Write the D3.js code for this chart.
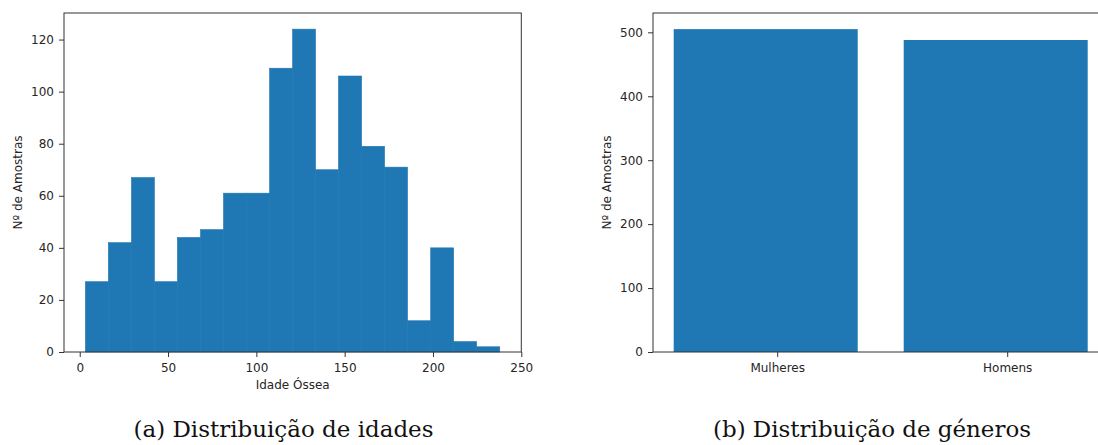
<!DOCTYPE html>
<html>
<head>
<meta charset="utf-8">
<script src="https://cdn.jsdelivr.net/npm/d3@7"></script>
<style>
  html, body { margin: 0; padding: 0; background: #ffffff; }
  svg { display: block; }
  .tick text { font-family: "DejaVu Sans", sans-serif; font-size: 12px; fill: #262626; }
  .tick line { stroke: #333333; }
  .domain { display: none; }
</style>
</head>
<body>
<svg id="chart" width="1098" height="445"></svg>
<script>
// ---------- DATA ----------
// (a) histogram of bone age: bin edges and counts
const ageBinEdges = [3.2, 16.2, 29.3, 42.3, 55.3, 68.4, 81.4, 94.4, 107.5, 120.5, 133.5, 146.5, 159.6, 172.6, 185.6, 198.7, 211.7, 224.7, 237.8];
const ageCounts   = [27, 42, 67, 27, 44, 47, 61, 61, 109, 124, 70, 106, 79, 71, 12, 40, 4, 2];
const ageXTicks   = [0, 50, 100, 150, 200, 250];
const ageYTicks   = [0, 20, 40, 60, 80, 100, 120];

// (b) gender distribution
const genderCategories = ["Mulheres", "Homens"];
const genderCounts     = [505, 488];
const genderYTicks     = [0, 100, 200, 300, 400, 500];

// Texts
const yLabel = "Nº de Amostras";
const xLabelAge = "Idade Óssea";
const captionA = "(a) Distribuição de idades";
const captionB = "(b) Distribuição de géneros";

// ---------- DRAW ----------
const svg = d3.select("#chart");
const barColor = "#1f77b4";
const spineColor = "#333333";

// ----- Panel (a) -----
const A = { left: 64, right: 521.3, top: 13, bottom: 352 };
const xA = d3.scaleLinear().domain([-8.9, 250]).range([A.left, A.right]);
const yA = d3.scaleLinear().domain([0, d3.max(ageCounts) * 1.05]).range([A.bottom, A.top]);

const gA = svg.append("g");
const bins = ageCounts.map((c, i) => ({ x0: ageBinEdges[i], x1: ageBinEdges[i + 1], c }));
gA.selectAll("rect.bar").data(bins).enter().append("rect")
  .attr("class", "bar")
  .attr("x", d => xA(d.x0))
  .attr("width", d => xA(d.x1) - xA(d.x0))
  .attr("y", d => yA(d.c))
  .attr("height", d => yA(0) - yA(d.c))
  .attr("fill", barColor)
  .attr("stroke", barColor).attr("stroke-width", 0.6);

gA.append("rect")
  .attr("x", A.left).attr("y", A.top)
  .attr("width", A.right - A.left).attr("height", A.bottom - A.top)
  .attr("fill", "none").attr("stroke", spineColor).attr("stroke-width", 1);

gA.append("g").attr("transform", `translate(0,${A.bottom})`)
  .call(d3.axisBottom(xA).tickValues(ageXTicks).tickSize(5).tickPadding(6).tickSizeOuter(0));
gA.append("g").attr("transform", `translate(${A.left},0)`)
  .call(d3.axisLeft(yA).tickValues(ageYTicks).tickSize(5).tickPadding(5).tickSizeOuter(0));

gA.append("text")
  .attr("x", (A.left + A.right) / 2).attr("y", 389)
  .attr("text-anchor", "middle")
  .attr("font-family", "DejaVu Sans, sans-serif").attr("font-size", 12).attr("fill", "#262626")
  .text(xLabelAge);

gA.append("text")
  .attr("transform", `translate(22,${(A.top + A.bottom) / 2}) rotate(-90)`)
  .attr("text-anchor", "middle")
  .attr("font-family", "DejaVu Sans, sans-serif").attr("font-size", 12).attr("fill", "#262626")
  .text(yLabel);

// ----- Panel (b) -----
const B = { left: 653, right: 1108.4, top: 13, bottom: 352 };
const xB = d3.scaleLinear().domain([-0.49, 1.49]).range([B.left, B.right]);
const yB = d3.scaleLinear().domain([0, d3.max(genderCounts) * 1.05]).range([B.bottom, B.top]);

const gB = svg.append("g");
const gd = genderCategories.map((name, i) => ({ name, i, c: genderCounts[i] }));
gB.selectAll("rect.bar").data(gd).enter().append("rect")
  .attr("class", "bar")
  .attr("x", d => xB(d.i - 0.4))
  .attr("width", d => xB(d.i + 0.4) - xB(d.i - 0.4))
  .attr("y", d => yB(d.c))
  .attr("height", d => yB(0) - yB(d.c))
  .attr("fill", barColor);

gB.append("rect")
  .attr("x", B.left).attr("y", B.top)
  .attr("width", B.right - B.left).attr("height", B.bottom - B.top)
  .attr("fill", "none").attr("stroke", spineColor).attr("stroke-width", 1);

gB.append("g").attr("transform", `translate(0,${B.bottom})`)
  .call(d3.axisBottom(xB).tickValues(gd.map(d => d.i + 0.05))
    .tickFormat((v, k) => genderCategories[k]).tickSize(5).tickPadding(6).tickSizeOuter(0));
gB.append("g").attr("transform", `translate(${B.left},0)`)
  .call(d3.axisLeft(yB).tickValues(genderYTicks).tickSize(5).tickPadding(5).tickSizeOuter(0));

gB.append("text")
  .attr("transform", `translate(611,${(B.top + B.bottom) / 2}) rotate(-90)`)
  .attr("text-anchor", "middle")
  .attr("font-family", "DejaVu Sans, sans-serif").attr("font-size", 12).attr("fill", "#262626")
  .text(yLabel);

// ----- Captions -----
svg.append("text")
  .attr("x", 133.5).attr("y", 437)
  .attr("font-family", "DejaVu Serif, serif").attr("font-size", 22).attr("fill", "#111")
  .attr("textLength", 300).attr("lengthAdjust", "spacingAndGlyphs")
  .text(captionA);
svg.append("text")
  .attr("x", 713).attr("y", 437)
  .attr("font-family", "DejaVu Serif, serif").attr("font-size", 22).attr("fill", "#111")
  .attr("textLength", 318).attr("lengthAdjust", "spacingAndGlyphs")
  .text(captionB);
</script>
</body>
</html>
